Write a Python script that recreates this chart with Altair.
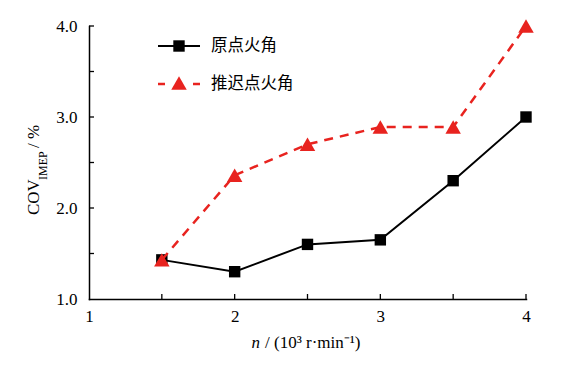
import altair as alt
import pandas as pd

# ---- data ----
speed = [1.5, 2.0, 2.5, 3.0, 3.5, 4.0]
cov_original = [1.43, 1.30, 1.60, 1.65, 2.30, 3.00]
cov_retarded = [1.43, 2.36, 2.70, 2.89, 2.89, 4.00]
series_names = ["原点火角", "推迟点火角"]
x_label_values = [1, 2, 3, 4]
y_label_values = [1.0, 2.0, 3.0, 4.0]
x_tick_values = [1.5, 2.0, 2.5, 3.0, 3.5, 4.0]
y_tick_values = [1.5, 2.0, 2.5, 3.0, 3.5, 4.0]

W, H = 437, 273
RED = "#e8231f"
SERIF = "Liberation Serif"
CJK = "Noto Sans CJK SC"

df1 = pd.DataFrame({"n": speed, "cov": cov_original})
df2 = pd.DataFrame({"n": speed, "cov": cov_retarded})

xs = alt.Scale(domain=[1, 4], nice=False, zero=False)
ys = alt.Scale(domain=[1, 4], nice=False, zero=False)

xaxis = alt.Axis(values=x_label_values, format="d", title=None, grid=False,
                 ticks=False, tickSize=0, labelPadding=9, domainColor="black",
                 domainWidth=1.5, labelFont=SERIF, labelFontSize=17,
                 labelColor="black", labelFlush=False)
yaxis = alt.Axis(values=y_label_values, format=".1f", title=None, grid=False,
                 ticks=False, tickSize=0, labelPadding=12, domainColor="black",
                 domainWidth=1.5, labelFont=SERIF, labelFontSize=17,
                 labelColor="black", labelFlush=False)

base1 = alt.Chart(df1).encode(
    x=alt.X("n:Q", scale=xs, axis=xaxis),
    y=alt.Y("cov:Q", scale=ys, axis=yaxis),
)
line1 = base1.mark_line(color="black", strokeWidth=2)
pts1 = base1.mark_point(shape="square", filled=True, color="black", size=130, opacity=1)

base2 = alt.Chart(df2).encode(x=alt.X("n:Q", scale=xs), y=alt.Y("cov:Q", scale=ys))
line2 = base2.mark_line(color=RED, strokeWidth=2.5, strokeDash=[9, 7])
pts2 = base2.mark_point(shape="triangle-up", filled=True, color=RED, size=240, opacity=1)

# inward ticks
yt = alt.Chart(pd.DataFrame({"v": y_tick_values})).mark_rule(color="black", strokeWidth=1.3).encode(
    y=alt.Y("v:Q", scale=ys), x=alt.value(0), x2=alt.value(5))
xt = alt.Chart(pd.DataFrame({"v": x_tick_values})).mark_rule(color="black", strokeWidth=1.3).encode(
    x=alt.X("v:Q", scale=xs), y=alt.value(H), y2=alt.value(H - 5))

def txt(s, x, y, **kw):
    return alt.Chart(pd.DataFrame({"t": [s]})).mark_text(**kw).encode(
        text="t:N", x=alt.value(x), y=alt.value(y))

# legend
leg = [
    alt.Chart(pd.DataFrame({"a": [0]})).mark_rule(color="black", strokeWidth=2).encode(
        x=alt.value(69), x2=alt.value(111), y=alt.value(20)),
    alt.Chart(pd.DataFrame({"a": [0]})).mark_point(shape="square", filled=True, color="black", size=130, opacity=1).encode(
        x=alt.value(90), y=alt.value(20)),
    txt(series_names[0], 122, 20, align="left", baseline="middle", font=CJK, fontSize=16.5, color="black"),
    alt.Chart(pd.DataFrame({"a": [0]})).mark_rule(color=RED, strokeWidth=2.5).encode(
        x=alt.value(69), x2=alt.value(76), y=alt.value(58)),
    alt.Chart(pd.DataFrame({"a": [0]})).mark_rule(color=RED, strokeWidth=2.5).encode(
        x=alt.value(104), x2=alt.value(111), y=alt.value(58)),
    alt.Chart(pd.DataFrame({"a": [0]})).mark_point(shape="triangle-up", filled=True, color=RED, size=240, opacity=1).encode(
        x=alt.value(90), y=alt.value(57)),
    txt(series_names[1], 122, 58, align="left", baseline="middle", font=CJK, fontSize=16.5, color="black"),
]

# y title: COV_IMEP / %
ytitle = [
    txt("COV", -55, 189, align="left", baseline="middle", angle=270, font=SERIF, fontSize=17, color="black"),
    txt("IMEP", -46, 154, align="left", baseline="middle", angle=270, font=SERIF, fontSize=12, color="black"),
    txt("/ %", -55, 122, align="left", baseline="middle", angle=270, font=SERIF, fontSize=17, color="black"),
]
# x title: n / (10^3 r·min^-1)
xtitle = [
    txt("n", 171, 317, align="right", baseline="middle", font=SERIF, fontSize=17, fontStyle="italic", color="black"),
    txt("/ (10³ r·min⁻¹)", 176, 317, align="left", baseline="middle", font=SERIF, fontSize=17, color="black"),
]

chart = alt.layer(line1, pts1, line2, pts2, yt, xt, *leg, *ytitle, *xtitle).properties(
    width=W, height=H,
    autosize=alt.AutoSizeParams(type="none"),
    padding={"left": 81, "top": 18, "right": 37, "bottom": 60},
).configure_view(stroke=None).configure_axis(
    domainCap="square", labelFont=SERIF, labelFontSize=17, labelColor="black"
)

chart.save("out.html", embed_options={"renderer": "svg", "actions": False})
